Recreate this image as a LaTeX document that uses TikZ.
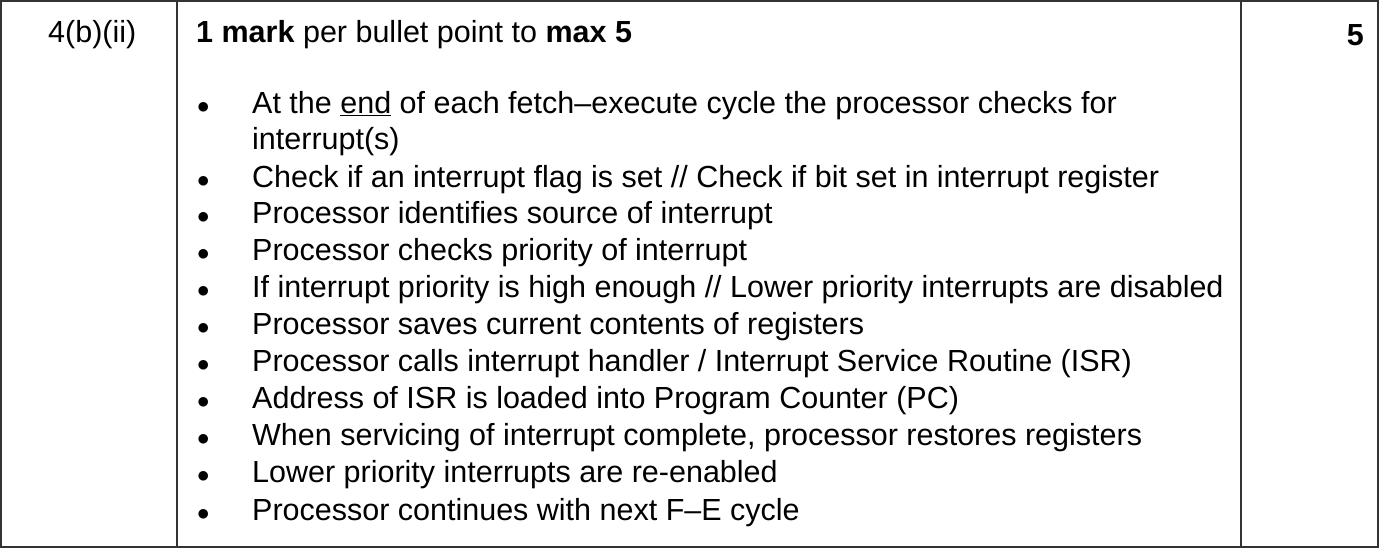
\documentclass[tikz,border=0pt]{standalone}
\usepackage{fontspec}
\setmainfont{Liberation Sans}
\begin{document}
\begin{tikzpicture}[x=1pt,y=-1pt,
  rule/.style={line width=2pt, color=black!80},
  txt/.style={anchor=west, inner sep=0pt, font=\fontsize{30.5}{36}\selectfont}]
\useasboundingbox (0,0) rectangle (1379,548);
\draw[rule] (1,1) rectangle (1378,547);
\draw[rule] (177,0) -- (177,548);
\draw[rule] (1241,0) -- (1241,548);
\node[txt] (ref) at (48,35) {4(b)(ii)};
\node[txt] (head) at (196,35) {\textbf{1 mark} per bullet point to \textbf{max 5}};
\node[txt, anchor=east] (marks) at (1364,35) {\textbf{5}};
\foreach \y/\t [count=\i] in {
  106/{At the \underline{end} of each fetch–execute cycle the processor checks for},
  180/{Check if an interrupt flag is set // Check if bit set in interrupt register},
  216/{Processor identifies source of interrupt},
  253/{Processor checks priority of interrupt},
  290/{If interrupt priority is high enough // Lower priority interrupts are disabled},
  327/{Processor saves current contents of registers},
  364/{Processor calls interrupt handler / Interrupt Service Routine (ISR)},
  401/{Address of ISR is loaded into Program Counter (PC)},
  438/{When servicing of interrupt complete, processor restores registers},
  475/{Lower priority interrupts are re-enabled},
  513/{Processor continues with next F–E cycle}}
{
  \node[txt] (dot\i) at (197,\y+2) {$\bullet$};
  \node[txt] (item\i) at (252,\y) {\t};
}
\node[txt] (item1b) at (252,142) {interrupt(s)};
\end{tikzpicture}
\end{document}
